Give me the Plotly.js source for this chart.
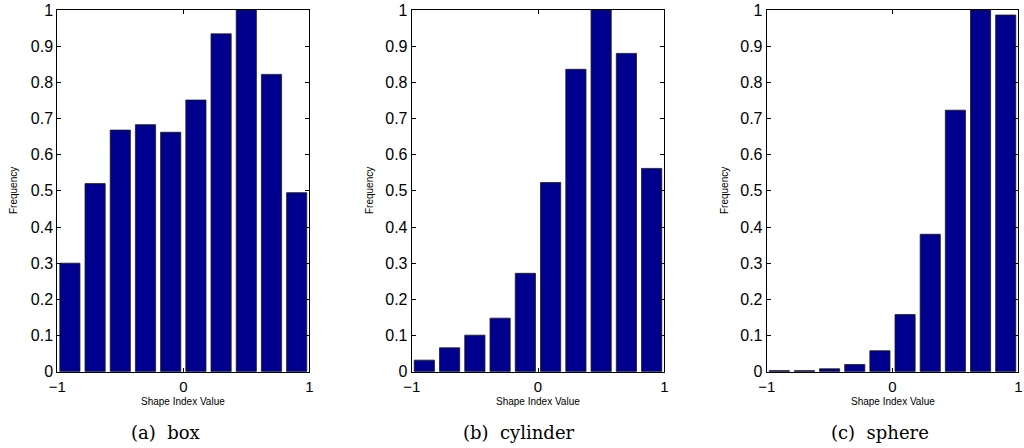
<!DOCTYPE html>
<html>
<head>
<meta charset="utf-8">
<script src="https://cdn.plot.ly/plotly-3.0.1.min.js"></script>
<style>html,body{margin:0;padding:0;background:#fff;}#chart{width:1024px;height:448px;}</style>
</head>
<body>
<div id="chart"></div>
<script>
const binCenters = [-0.9, -0.7, -0.5, -0.3, -0.1, 0.1, 0.3, 0.5, 0.7, 0.9];
const boxFreq = [0.300, 0.520, 0.668, 0.683, 0.662, 0.751, 0.934, 1.0, 0.822, 0.495];
const cylinderFreq = [0.032, 0.066, 0.101, 0.148, 0.272, 0.523, 0.836, 1.0, 0.880, 0.562];
const sphereFreq = [0.003, 0.003, 0.008, 0.020, 0.058, 0.158, 0.380, 0.723, 1.0, 0.986];
const panelCaptions = ["(a)  box", "(b)  cylinder", "(c)  sphere"];
const xTickVals = [-1, 0, 1];
const xTickText = ["\u22121", "0", "1"];
const yTickVals = [0, 0.1, 0.2, 0.3, 0.4, 0.5, 0.6, 0.7, 0.8, 0.9, 1];
const yTickText = ["0", "0.1", "0.2", "0.3", "0.4", "0.5", "0.6", "0.7", "0.8", "0.9", "1"];

const W = 1024, H = 448;
const series = [boxFreq, cylinderFreq, sphereFreq];
const xPix = [[57.3, 309.3], [411.7, 664.3], [766.7, 1018.3]];
const yTopPix = 10, yBotPix = 371.7;
const captionX = [165, 519, 880];
const freqX = [13, 369, 724];

const traces = series.map((vals, i) => ({
  type: 'bar',
  x: binCenters,
  y: vals,
  width: 0.16,
  xaxis: i === 0 ? 'x' : 'x' + (i + 1),
  yaxis: i === 0 ? 'y' : 'y' + (i + 1),
  marker: {color: '#00008F', line: {color: '#1a1a1a', width: 0.8}},
  hoverinfo: 'skip',
  showlegend: false
}));

const layout = {
  width: W, height: H,
  margin: {l: 0, r: 0, t: 0, b: 0},
  paper_bgcolor: '#fff', plot_bgcolor: '#fff',
  font: {family: 'Liberation Sans, Arial, sans-serif', color: '#000'},
  annotations: []
};

for (let i = 0; i < 3; i++) {
  const sx = i === 0 ? '' : String(i + 1);
  layout['xaxis' + sx] = {
    domain: [xPix[i][0] / W, xPix[i][1] / W],
    anchor: 'y' + sx,
    range: [-1, 1],
    tickmode: 'array', tickvals: xTickVals, ticktext: xTickText,
    ticks: 'inside', ticklen: 4, tickwidth: 1, tickcolor: '#000',
    showline: true, linecolor: '#000', linewidth: 1, mirror: 'ticks',
    showgrid: false, zeroline: false,
    tickfont: {size: 15, family: 'Liberation Sans, Arial, sans-serif'},
    ticklabelstandoff: 1,
    fixedrange: true
  };
  layout['yaxis' + sx] = {
    domain: [(H - yBotPix) / H, (H - yTopPix) / H],
    anchor: 'x' + sx,
    range: [0, 1],
    tickmode: 'array', tickvals: yTickVals, ticktext: yTickText,
    ticks: 'inside', ticklen: 4, tickwidth: 1, tickcolor: '#000',
    showline: true, linecolor: '#000', linewidth: 1, mirror: 'ticks',
    showgrid: false, zeroline: false,
    tickfont: {size: 16, family: 'Liberation Sans, Arial, sans-serif'},
    fixedrange: true
  };
  layout.annotations.push({
    xref: 'paper', yref: 'paper',
    x: (xPix[i][0] + xPix[i][1]) / 2 / W, y: (H - 401) / H,
    xanchor: 'center', yanchor: 'middle', showarrow: false,
    text: 'Shape Index Value',
    font: {size: 10, family: 'Liberation Sans, Arial, sans-serif', color: '#000'}
  });
  layout.annotations.push({
    xref: 'paper', yref: 'paper',
    x: freqX[i] / W, y: (H - 191) / H,
    xanchor: 'center', yanchor: 'middle', showarrow: false,
    textangle: -90,
    text: 'Frequency',
    font: {size: 10, family: 'Liberation Sans, Arial, sans-serif', color: '#000'}
  });
  layout.annotations.push({
    xref: 'paper', yref: 'paper',
    x: captionX[i] / W, y: (H - 432) / H,
    xanchor: 'center', yanchor: 'middle', showarrow: false,
    text: panelCaptions[i].replace('  ', '&nbsp;&nbsp;'),
    font: {size: 18, family: 'DejaVu Serif, Liberation Serif, serif', color: '#000'}
  });
}

Plotly.newPlot('chart', traces, layout, {staticPlot: true, displayModeBar: false});
</script>
</body>
</html>
